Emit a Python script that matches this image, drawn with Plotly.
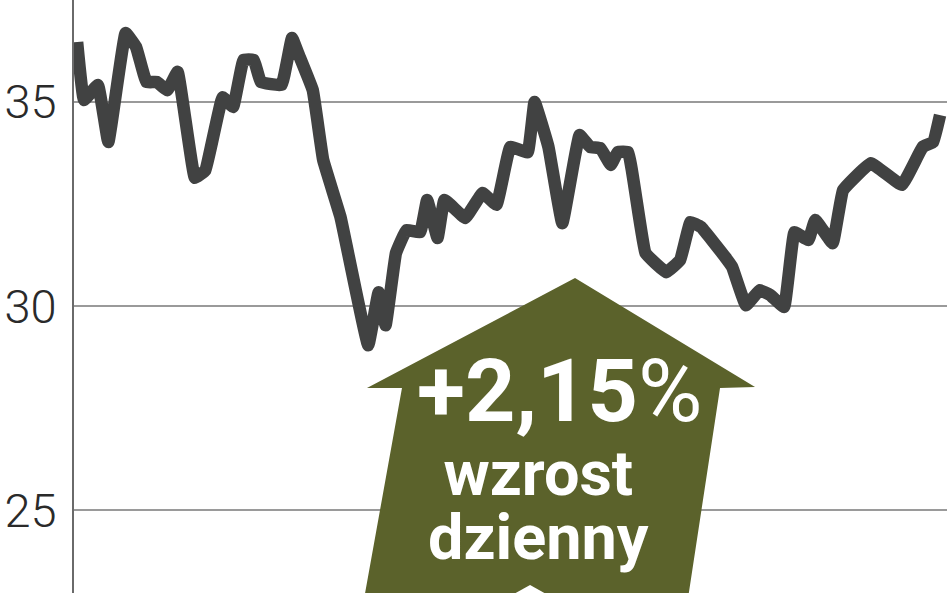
"""Daily price line with a green 'up' arrow badge."""

import plotly.graph_objects as go

# trading-day index and closing price
days = [0, 2, 6, 9, 14, 17, 20, 23, 26, 29, 34, 37, 42, 45, 48, 51, 53, 59, 62, 64,
        68, 71, 76, 84, 87, 89, 92, 95, 99, 101, 104, 106, 112, 117, 121, 125, 130,
        132, 136, 140, 145, 148, 151, 154, 156, 159, 164, 170, 174, 177, 180, 187,
        189, 193, 197, 200, 204, 207, 211, 213, 218, 221, 229, 238, 244, 247, 249]
prices = [36.47, 35.05, 35.42, 34.02, 36.69, 36.35, 35.49, 35.49, 35.29, 35.74,
          33.14, 33.33, 35.12, 34.88, 36.03, 36.03, 35.49, 35.42, 36.57, 36.15,
          35.29, 33.58, 32.18, 29.04, 30.34, 29.53, 31.30, 31.86, 31.81, 32.60,
          31.67, 32.60, 32.16, 32.77, 32.48, 33.90, 33.77, 35.00, 33.90, 32.03,
          34.19, 33.90, 33.87, 33.46, 33.77, 33.77, 31.30, 30.83, 31.13, 32.06,
          31.94, 31.20, 30.96, 30.02, 30.39, 30.27, 29.98, 31.81, 31.62, 32.11,
          31.54, 32.84, 33.50, 32.97, 33.90, 34.02, 34.68]
y_ticks = [25, 30, 35]

change_label = "+2,15"
caption_lines = ["wzrost", "dzienny"]

_LINE = "#414242"
_OLIVE = "#5b622b"
_GRID = "#9a9a9a"

fig = go.Figure()
fig.add_trace(go.Scatter(
    x=days, y=prices, mode="lines",
    line={"color": _LINE, "width": 12.5, "shape": "spline", "smoothing": 0.25},
    hoverinfo="skip", showlegend=False,
))

# arrow badge (paper coordinates)
arrow = ("M 0.3310 -0.02 L 0.3757 0.3457 L 0.3356 0.3457 L 0.5739 0.5312 "
         "L 0.7801 0.3474 L 0.7400 0.3457 L 0.7022 -0.02 Z")
fig.add_shape(type="path", path=arrow, xref="paper", yref="paper",
              fillcolor=_OLIVE, line={"width": 0}, layer="above")
fig.add_shape(type="path", path="M 0.4937 -0.01 L 0.5224 0.0135 L 0.5510 -0.01 Z",
              xref="paper", yref="paper", fillcolor="white", line={"width": 0},
              layer="above")

fig.add_annotation(
    text=f"<b>{change_label}</b>%", x=0.5567, y=0.3423, xref="paper", yref="paper",
    xanchor="center", yanchor="middle", showarrow=False,
    font={"family": "Roboto", "size": 88, "color": "white"},
)
# one annotation for the two caption lines: small base size keeps lines tight
caption = "<br>".join(f"<span style='font-size:63px'><b>{t}</b></span>"
                      for t in caption_lines)
fig.add_annotation(
    text=caption, x=0.5321, y=0.148, xref="paper", yref="paper",
    xanchor="center", yanchor="middle", showarrow=False,
    font={"family": "Roboto", "size": 49, "color": "white"},
)

fig.update_layout(
    width=948, height=593, paper_bgcolor="white", plot_bgcolor="white",
    margin={"l": 74, "r": 1, "t": 0, "b": 0, "autoexpand": False},
    xaxis={"range": [-0.9, 251], "visible": False, "fixedrange": True,
           "automargin": False},
    yaxis={
        "range": [22.97, 37.5], "tickvals": y_ticks, "automargin": False,
        "ticktext": [str(t) for t in y_ticks], "fixedrange": True,
        "showgrid": True, "gridcolor": _GRID, "gridwidth": 2,
        "zeroline": False, "showline": True, "linecolor": "#6a6a6a", "linewidth": 2,
        "ticks": "", "ticklabelstandoff": 6,
        "tickfont": {"family": "Roboto", "size": 47, "color": "#2a2a2a", "weight": 300},
    },
)

# drop the browser's default 8px body margin so the chart fills the window
fig.write_html("out.html", config={"displayModeBar": False},
               post_script="document.body.style.margin='0';")
